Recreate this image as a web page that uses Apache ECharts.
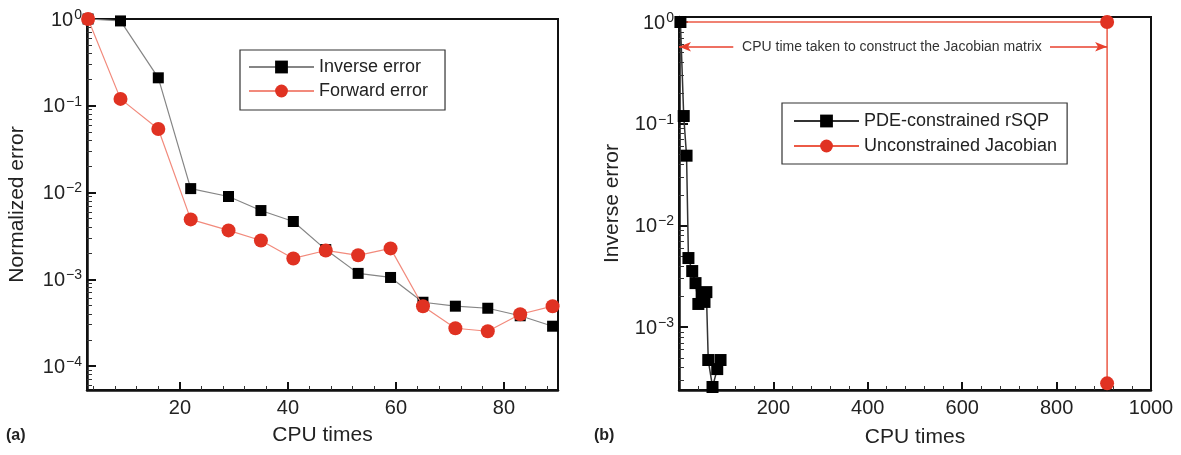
<!DOCTYPE html>
<html><head><meta charset="utf-8">
<script src="https://cdn.jsdelivr.net/npm/echarts@6/dist/echarts.min.js"></script>
<style>html,body{margin:0;padding:0;background:#fff}#c{width:1181px;height:455px}</style>
</head><body><div id="c"></div>
<script>
// ---- data ----
const leftX = [3, 9, 16, 22, 29, 35, 41, 47, 53, 59, 65, 71, 77, 83, 89];
const leftInverse = [1, 0.95, 0.21, 0.0111, 0.009, 0.0062, 0.00464, 0.0022, 0.00117, 0.00105, 0.000544, 0.00049, 0.000464, 0.00038, 0.000288];
const leftForward = [1, 0.12, 0.054, 0.0049, 0.00366, 0.0028, 0.00174, 0.00215, 0.00189, 0.00227, 0.00049, 0.000273, 0.000252, 0.000396, 0.00049];

const rightX = [3, 10, 16, 20, 28, 35, 41, 48, 54, 58, 62, 71, 81, 88];
const rightPDE = [1, 0.119, 0.0485, 0.00478, 0.00356, 0.00271, 0.00169, 0.00211, 0.00177, 0.00221, 0.000475, 0.000258, 0.000387, 0.000475];
const rightJacX = [3, 907, 907];
const rightJac = [1, 1, 0.00028];

const leftXMajor = [20, 40, 60, 80];
const leftXMinor = [4, 8, 12, 16, 24, 28, 32, 36, 44, 48, 52, 56, 64, 68, 72, 76, 84, 88];
const leftYMajor = [1e-4, 1e-3, 1e-2, 1e-1, 1];
const rightYMajor = [1e-3, 1e-2, 1e-1, 1];
const logMinor = [];
for (let k = -5; k <= 0; k++) for (let m = 2; m <= 9; m++) logMinor.push(+(m * Math.pow(10, k)).toPrecision(3));

const annText = 'CPU time taken to construct the Jacobian matrix';
const annY = 0.571;
const annTextX = 451;
const annLeftSeg = [0, 115];
const annRightSeg = [786, 907];

// ---- helpers ----
const FONT = '"Liberation Sans", Arial, Helvetica, sans-serif';
const TXT = '#222';
function powLabel(v) {
  const e = Math.round(Math.log10(v));
  return '{b|10}{s|' + (e < 0 ? '\u2212' + (-e) : String(e)) + '}';
}
const rich = {
  b: {fontSize: 20, fontFamily: FONT, color: TXT, lineHeight: 22, verticalAlign: 'bottom'},
  s: {fontSize: 14, fontFamily: FONT, color: TXT, lineHeight: 14, verticalAlign: 'top', padding: [0, 0, 0, 1]}
};
const zip = (xs, ys) => xs.map((x, i) => [x, ys[i]]);

function majorY(grid, min, max, vals, name, gap) {
  return {
    type: 'log', gridIndex: grid, min: min, max: max, logBase: 10, position: 'left',
    axisLine: {show: true, lineStyle: {color: '#111', width: 2.5}},
    axisTick: {show: true, inside: true, length: 9, customValues: vals, lineStyle: {color: '#111', width: 2}},
    axisLabel: {show: true, customValues: vals, margin: 5, formatter: powLabel, rich: rich},
    splitLine: {show: false}, minorTick: {show: false},
    name: name, nameLocation: 'middle', nameGap: gap,
    nameTextStyle: {fontSize: 21, fontFamily: FONT, color: TXT}
  };
}
function minorY(grid, min, max) {
  return {
    type: 'log', gridIndex: grid, min: min, max: max, logBase: 10, position: 'left',
    axisLine: {show: false},
    axisTick: {show: true, inside: true, length: 5, customValues: logMinor, lineStyle: {color: '#333', width: 1}},
    axisLabel: {show: false}, splitLine: {show: false}
  };
}

const chart = echarts.init(document.getElementById('c'), null, {renderer: 'canvas'});
chart.setOption({
  animation: false,
  backgroundColor: '#fff',
  textStyle: {fontFamily: FONT},
  title: [
    {text: '(a)', left: 6, top: 428, padding: 0, textStyle: {fontSize: 16, fontWeight: 'bold', color: TXT, fontFamily: FONT}},
    {text: '(b)', left: 594, top: 428, padding: 0, textStyle: {fontSize: 16, fontWeight: 'bold', color: TXT, fontFamily: FONT}}
  ],
  grid: [
    {left: 87, top: 19, width: 471, height: 371, show: true, borderColor: '#111', borderWidth: 2, containLabel: false},
    {left: 679, top: 17, width: 472, height: 373, show: true, borderColor: '#111', borderWidth: 2, containLabel: false}
  ],
  legend: [
    {
      data: ['Inverse error', 'Forward error'], orient: 'vertical', left: 240, top: 50,
      padding: [7, 17, 9, 8], itemGap: 4, itemWidth: 65, itemHeight: 16,
      borderColor: '#333', borderWidth: 1.2, backgroundColor: '#fff',
      textStyle: {fontSize: 18, fontFamily: FONT, color: TXT, lineHeight: 20}
    },
    {
      data: ['PDE-constrained rSQP', 'Unconstrained Jacobian'], orient: 'vertical', left: 782, top: 103,
      padding: [8, 10, 8, 11], itemGap: 5, itemWidth: 65, itemHeight: 16,
      borderColor: '#333', borderWidth: 1.2, backgroundColor: '#fff',
      textStyle: {fontSize: 18, fontFamily: FONT, color: TXT, lineHeight: 20}
    }
  ],
  xAxis: [
    {
      type: 'value', gridIndex: 0, min: 2.8, max: 90, position: 'bottom',
      axisLine: {show: true, lineStyle: {color: '#111', width: 2.5}},
      axisTick: {show: true, inside: true, length: 8, customValues: leftXMajor, lineStyle: {color: '#111', width: 2}},
      axisLabel: {show: true, customValues: leftXMajor, fontSize: 20, color: TXT, margin: 8, fontFamily: FONT},
      splitLine: {show: false},
      name: 'CPU times', nameLocation: 'middle', nameGap: 35,
      nameTextStyle: {fontSize: 21, fontFamily: FONT, color: TXT}
    },
    {
      type: 'value', gridIndex: 0, min: 2.8, max: 90, position: 'bottom',
      axisLine: {show: false},
      axisTick: {show: true, inside: true, length: 4, customValues: leftXMinor, lineStyle: {color: '#333', width: 1}},
      axisLabel: {show: false}, splitLine: {show: false}
    },
    {
      type: 'value', gridIndex: 1, min: 0, max: 1000, interval: 200, position: 'bottom',
      axisLine: {show: true, lineStyle: {color: '#111', width: 2.5}},
      axisTick: {show: true, inside: true, length: 8, lineStyle: {color: '#111', width: 2}},
      minorTick: {show: true, splitNumber: 5, length: 4, lineStyle: {color: '#333', width: 1}},
      axisLabel: {show: true, showMinLabel: false, fontSize: 20, color: TXT, margin: 8, fontFamily: FONT,
        formatter: v => String(v)},
      splitLine: {show: false},
      name: 'CPU times', nameLocation: 'middle', nameGap: 37,
      nameTextStyle: {fontSize: 21, fontFamily: FONT, color: TXT}
    }
  ],
  yAxis: [
    majorY(0, 5.3e-5, 1, leftYMajor, 'Normalized error', 59),
    minorY(0, 5.3e-5, 1),
    majorY(1, 2.41e-4, 1.12, rightYMajor, 'Inverse error', 56),
    minorY(1, 2.41e-4, 1.12)
  ],
  series: [
    {
      name: 'Inverse error', type: 'line', xAxisIndex: 0, yAxisIndex: 0, clip: false,
      data: zip(leftX, leftInverse), symbol: 'rect', symbolSize: 11,
      itemStyle: {color: '#000'}, lineStyle: {color: '#858585', width: 1.2}, z: 2
    },
    {
      name: 'Forward error', type: 'line', xAxisIndex: 0, yAxisIndex: 0, clip: false,
      data: zip(leftX, leftForward), symbol: 'circle', symbolSize: 14,
      itemStyle: {color: '#e03222'}, lineStyle: {color: '#f28a7c', width: 1.2}, z: 3
    },
    {
      name: 'PDE-constrained rSQP', type: 'line', xAxisIndex: 2, yAxisIndex: 2, clip: false,
      data: zip(rightX, rightPDE), symbol: 'rect', symbolSize: 12,
      itemStyle: {color: '#000'}, lineStyle: {color: '#333', width: 1.5}, z: 4
    },
    {
      name: 'Unconstrained Jacobian', type: 'line', xAxisIndex: 2, yAxisIndex: 2, clip: false,
      data: zip(rightJacX, rightJac).map((p, i) => i === 0 ? {value: p, symbolSize: 0} : p),
      symbol: 'circle', symbolSize: 14,
      itemStyle: {color: '#e03222'}, lineStyle: {color: '#ec5a46', width: 1.5}, z: 3,
      markLine: {
        silent: true, animation: false,
        lineStyle: {color: '#e8402e', width: 1.5, type: 'solid'},
        label: {show: false},
        data: [
          [{coord: [annLeftSeg[0], annY], symbol: 'arrow', symbolSize: [7, 12]}, {coord: [annLeftSeg[1], annY], symbol: 'none'}],
          [{coord: [annRightSeg[0], annY], symbol: 'none'}, {coord: [annRightSeg[1], annY], symbol: 'arrow', symbolSize: [7, 12]}]
        ]
      },
      markPoint: {
        silent: true, animation: false,
        symbol: 'rect', symbolSize: 0,
        label: {show: true, position: 'inside', formatter: annText, fontSize: 14, color: '#333', fontFamily: FONT},
        data: [{coord: [annTextX, annY]}]
      }
    }
  ]
});
</script>
</body></html>
